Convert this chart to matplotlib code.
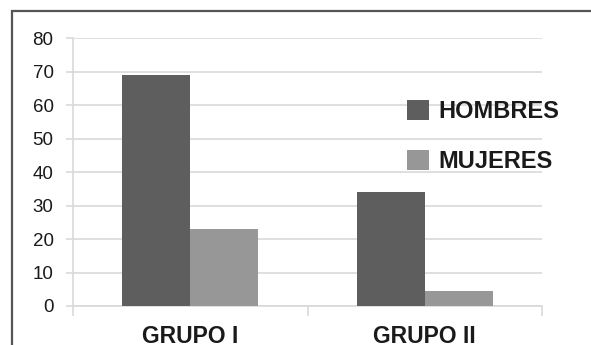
import matplotlib
matplotlib.use("Agg")
import matplotlib.pyplot as plt
from matplotlib.patches import Rectangle, Patch

groups = ["GRUPO I", "GRUPO II"]
series_names = ["HOMBRES", "MUJERES"]
hombres = [69, 34]
mujeres = [23, 4.5]
yticks = [0, 10, 20, 30, 40, 50, 60, 70, 80]

dark = "#5e5e5e"
light = "#979797"
grid = "#d9d9d9"
text = "#1a1a1a"

plt.rcParams["font.family"] = ["Liberation Sans", "DejaVu Sans"]

fig = plt.figure(figsize=(5.91, 3.45), dpi=100)
fig.patch.set_facecolor("white")

# outer frame (open on the right and bottom)
fig.patches.append(Rectangle((12 / 591, -0.2), 1.2, 0.2 + 1 - 11 / 345,
                             transform=fig.transFigure, fill=False,
                             edgecolor="#555555", linewidth=1.6))

ax = fig.add_axes([73 / 591, 1 - 306 / 345, (542 - 73) / 591, (306 - 38.3) / 345])

x = list(range(len(groups)))
w = 0.29
ax.bar([i - w / 2 for i in x], hombres, width=w, color=dark, zorder=3)
ax.bar([i + w / 2 for i in x], mujeres, width=w, color=light, zorder=3)

ax.set_xlim(-0.5, len(groups) - 0.5)
ax.set_ylim(0, 80)
ax.set_yticks(yticks)
ax.set_yticklabels([str(v) for v in yticks], fontsize=13.5, color=text)
ax.yaxis.grid(True, color=grid, linewidth=1.2, zorder=0)
ax.tick_params(axis="y", length=5, color=grid, width=1.2, pad=9)

ax.set_xticks(x)
ax.set_xticklabels(groups, fontsize=16.5, fontweight="bold", color=text)
ax.set_xticks([-0.5, 0.5, 1.5], minor=True)
ax.tick_params(axis="x", which="major", length=0, pad=13.5)
ax.tick_params(axis="x", which="minor", length=7.5, color=grid, width=1.2)

for s in ["top", "right"]:
    ax.spines[s].set_visible(False)
for s in ["left", "bottom"]:
    ax.spines[s].set_color(grid)
    ax.spines[s].set_linewidth(1.2)

handles = [Patch(facecolor=dark), Patch(facecolor=light)]
leg = ax.legend(handles, series_names, loc="upper left",
                bbox_to_anchor=(407 / 591, 1 - 100 / 345),
                bbox_transform=fig.transFigure, frameon=False,
                prop={"size": 17, "weight": "bold"},
                handlelength=0.93, handleheight=0.9, handletextpad=0.42,
                labelspacing=1.15, borderpad=0, borderaxespad=0)
for t in leg.get_texts():
    t.set_color(text)

fig.savefig("out.png", dpi=100, facecolor="white")
